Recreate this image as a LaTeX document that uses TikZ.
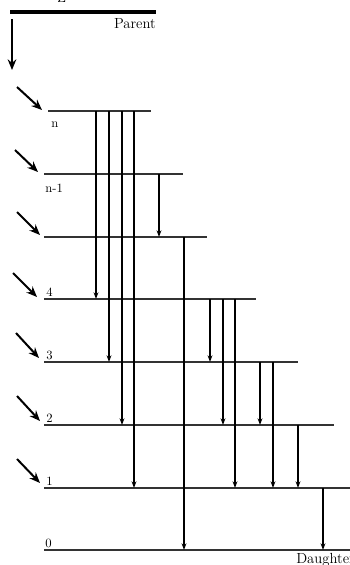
\documentclass[tikz,border=0pt]{standalone}
\usepackage{tikz}
\usetikzlibrary{arrows.meta, calc, positioning}

\begin{document}
\begin{tikzpicture}[
        x=0.75pt, y=-0.75pt,
        level/.style = {draw, black!80, line width=0.8pt},
        decay/.style = {draw, line width=1.1pt, -{Stealth[length=5pt, width=3.6pt]}},
        feed/.style = {draw, line width=1.5pt, -{Stealth[length=8pt, width=6.5pt]}},
        lab/.style = {inner sep=0pt, font=\fontsize{9.5}{11}\selectfont},
        tag/.style = {inner sep=0pt, font=\fontsize{11}{13}\selectfont}
    ]
        \useasboundingbox (0,0) rectangle (350,565);

        % Parent
        \coordinate (parent_l) at (10,12);
        \coordinate (parent_r) at (156,12);
        \draw [line width=2.6pt] (parent_l) -- (parent_r);
        \node (top_lab) [tag, anchor=base west] at (57,2) {Z};
        \node (parent_lab) [tag, anchor=north east] at ($(parent_r)+(0,6)$) {Parent};
        \coordinate (parent_s) at (12,19);
        \coordinate (parent_e) at (12,70);
        \draw [feed] (parent_s) -- (parent_e);

        % Levels
        \coordinate (lvn_l) at (48,111);  \coordinate (lvn_r) at (151,111);
        \coordinate (lvm_l) at (44,174);  \coordinate (lvm_r) at (183,174);
        \coordinate (lvk_l) at (44,237);  \coordinate (lvk_r) at (207,237);
        \coordinate (lv4_l) at (44,299);  \coordinate (lv4_r) at (256,299);
        \coordinate (lv3_l) at (44,362);  \coordinate (lv3_r) at (298,362);
        \coordinate (lv2_l) at (44,425);  \coordinate (lv2_r) at (334,425);
        \coordinate (lv1_l) at (44,488);  \coordinate (lv1_r) at (350,488);
        \coordinate (lv0_l) at (44,550);  \coordinate (lv0_r) at (350,550);

        \draw [level] (lvn_l) -- (lvn_r);
        \draw [level] (lvm_l) -- (lvm_r);
        \draw [level] (lvk_l) -- (lvk_r);
        \draw [level] (lv4_l) -- (lv4_r);
        \draw [level] (lv3_l) -- (lv3_r);
        \draw [level] (lv2_l) -- (lv2_r);
        \draw [level] (lv1_l) -- (lv1_r);
        \draw [level] (lv0_l) -- (lv0_r);

        % Level labels
        \node (lab_n) [lab, anchor=north west] at ($(lvn_l)+(3,11)$) {n};
        \node (lab_m) [lab, anchor=north west] at ($(lvm_l)+(1,10)$) {n-1};
        \node (lab_4) [lab, anchor=south west] at ($(lv4_l)+(2,-2)$) {4};
        \node (lab_3) [lab, anchor=south west] at ($(lv3_l)+(2,-2)$) {3};
        \node (lab_2) [lab, anchor=south west] at ($(lv2_l)+(2,-2)$) {2};
        \node (lab_1) [lab, anchor=south west] at ($(lv1_l)+(2,-2)$) {1};
        \node (lab_0) [lab, anchor=south west] at ($(lv0_l)+(1,-2)$) {0};
        \node (daughter_lab) [tag, anchor=north west] at (296,553) {Daughter};

        % Feeding arrows
        \coordinate (in_n_s) at (17,87);   \coordinate (in_n_e) at (42,110);
        \coordinate (in_m_s) at (15,150);  \coordinate (in_m_e) at (38,172);
        \coordinate (in_k_s) at (17,212);  \coordinate (in_k_e) at (40,235);
        \coordinate (in_4_s) at (13,273);  \coordinate (in_4_e) at (37,297);
        \coordinate (in_3_s) at (16,333);  \coordinate (in_3_e) at (39,358);
        \coordinate (in_2_s) at (17,396);  \coordinate (in_2_e) at (40,421);
        \coordinate (in_1_s) at (17,459);  \coordinate (in_1_e) at (40,483);
        \draw [feed] (in_n_s) -- (in_n_e);
        \draw [feed] (in_m_s) -- (in_m_e);
        \draw [feed] (in_k_s) -- (in_k_e);
        \draw [feed] (in_4_s) -- (in_4_e);
        \draw [feed] (in_3_s) -- (in_3_e);
        \draw [feed] (in_2_s) -- (in_2_e);
        \draw [feed] (in_1_s) -- (in_1_e);

        % Transitions from n
        \draw [decay] (96,0 |- lvn_l) -- (96,0 |- lv4_l);
        \draw [decay] (109,0 |- lvn_l) -- (109,0 |- lv3_l);
        \draw [decay] (122,0 |- lvn_l) -- (122,0 |- lv2_l);
        \draw [decay] (134,0 |- lvn_l) -- (134,0 |- lv1_l);

        % Transitions from n-1 and below
        \draw [decay] (159,0 |- lvm_l) -- (159,0 |- lvk_l);
        \draw [decay] (184,0 |- lvk_l) -- (184,0 |- lv0_l);

        % Transitions from 4
        \draw [decay] (210,0 |- lv4_l) -- (210,0 |- lv3_l);
        \draw [decay] (223,0 |- lv4_l) -- (223,0 |- lv2_l);
        \draw [decay] (235,0 |- lv4_l) -- (235,0 |- lv1_l);

        % Transitions from 3
        \draw [decay] (260,0 |- lv3_l) -- (260,0 |- lv2_l);
        \draw [decay] (273,0 |- lv3_l) -- (273,0 |- lv1_l);

        % Transitions from 2 and 1
        \draw [decay] (298,0 |- lv2_l) -- (298,0 |- lv1_l);
        \draw [decay] (323,0 |- lv1_l) -- (323,0 |- lv0_l);

    \end{tikzpicture}
\end{document}
